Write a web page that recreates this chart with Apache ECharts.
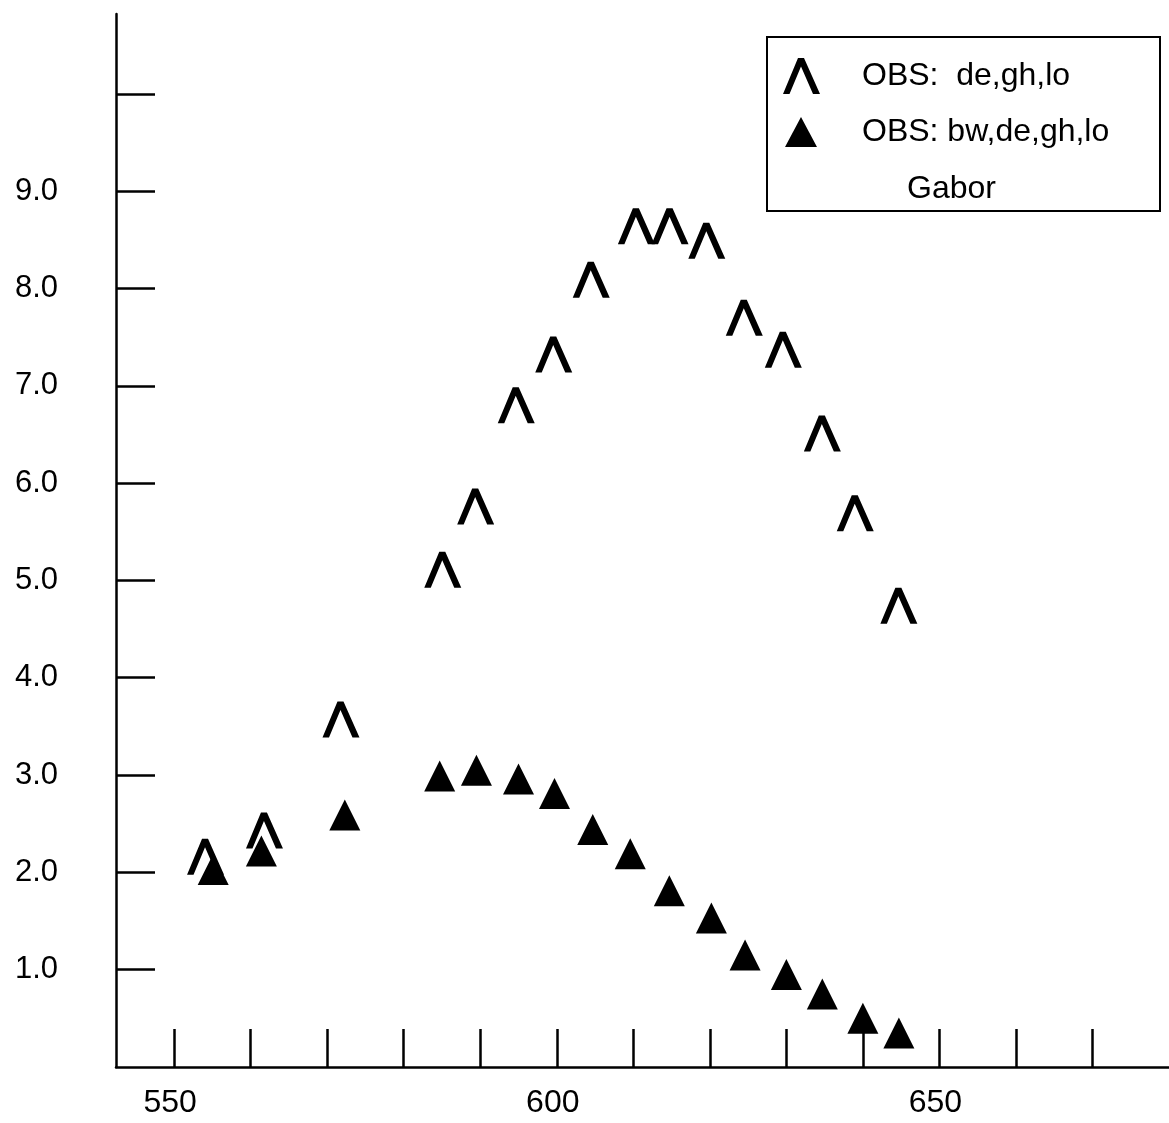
<!DOCTYPE html>
<html>
<head>
<meta charset="utf-8">
<script src="https://cdn.jsdelivr.net/npm/echarts@6/dist/echarts.min.js"></script>
<style>
  html, body { margin: 0; padding: 0; background: #fff; }
  #chart { width: 1169px; height: 1123px; }
</style>
</head>
<body>
<div id="chart"></div>
<script>
// Wavelength (nm) and response for the two observer groups
const obsWavelengths = [554.1, 561.8, 571.8, 585.1, 589.4, 594.7, 599.6, 604.5, 610.4, 614.8, 619.6, 624.5, 629.6, 634.7, 639.0, 644.7];
const obsValues      = [2.16, 2.43, 3.57, 5.11, 5.76, 6.80, 7.32, 8.09, 8.64, 8.64, 8.49, 7.70, 7.37, 6.51, 5.69, 4.74];

const obsBwWavelengths = [555.1, 561.4, 572.3, 584.7, 589.5, 595.0, 599.7, 604.7, 609.6, 614.7, 620.2, 624.6, 630.0, 634.7, 640.0, 644.7];
const obsBwValues      = [2.03, 2.22, 2.59, 2.99, 3.05, 2.96, 2.81, 2.44, 2.19, 1.81, 1.53, 1.15, 0.95, 0.75, 0.50, 0.35];

// Axis ticks and labels
const xTickValues  = [550, 560, 570, 580, 590, 600, 610, 620, 630, 640, 650, 660, 670];
const xLabelValues = [550, 600, 650];
const yTickValues  = [1, 2, 3, 4, 5, 6, 7, 8, 9, 10];
const yLabelValues = [1, 2, 3, 4, 5, 6, 7, 8, 9];

const seriesNames = ['OBS:  de,gh,lo', 'OBS: bw,de,gh,lo'];
const noteText = 'Gabor';

const FONT = '"Liberation Sans", Arial, Helvetica, sans-serif';
// open chevron marker, heavier right leg
const chevron = 'path://M0,36 L15,0 L21,0 L37,36 L30,36 L18,8.5 L6.5,36 Z';

const pairs = (xs, ys) => xs.map((x, i) => [x, ys[i]]);

const chart = echarts.init(document.getElementById('chart'), null, { renderer: 'canvas' });

chart.setOption({
  animation: false,
  backgroundColor: '#ffffff',
  grid: { left: 116, top: 14, right: -2, bottom: 56, containLabel: false },
  xAxis: {
    type: 'value',
    min: 542.4,
    max: 680,
    axisLine: { show: true, lineStyle: { color: '#000', width: 2.5 } },
    axisTick: {
      show: true, inside: true, length: 38,
      customValues: xTickValues,
      lineStyle: { color: '#000', width: 2.5 }
    },
    axisLabel: {
      show: true, margin: 20,
      customValues: xLabelValues,
      color: '#000', fontSize: 32, fontFamily: FONT,
      padding: [0, 8, 0, 0],
      formatter: v => String(Math.round(v))
    },
    splitLine: { show: false }
  },
  yAxis: {
    type: 'value',
    min: 0,
    max: 10.82,
    axisLine: { show: true, lineStyle: { color: '#000', width: 2.5 } },
    axisTick: {
      show: true, inside: true, length: 39,
      customValues: yTickValues,
      lineStyle: { color: '#000', width: 2.5 }
    },
    axisLabel: {
      show: true, margin: 58,
      customValues: yLabelValues,
      color: '#000', fontSize: 31, fontFamily: FONT,
      formatter: v => v.toFixed(1)
    },
    splitLine: { show: false }
  },
  legend: [
    {
      data: [{ name: seriesNames[0], icon: chevron }],
      orient: 'vertical',
      left: 783, top: 58,
      padding: 0,
      itemWidth: 37, itemHeight: 37,
      selectedMode: false,
      textStyle: { color: '#000', fontSize: 32, fontFamily: FONT, padding: [0, 0, 20, 37] }
    },
    {
      data: [{ name: seriesNames[1], icon: 'triangle' }],
      orient: 'vertical',
      left: 785, top: 116,
      padding: 0,
      itemWidth: 32, itemHeight: 30,
      selectedMode: false,
      textStyle: { color: '#000', fontSize: 32, fontFamily: FONT, padding: [0, 0, 0, 40] }
    }
  ],
  graphic: [
    {
      type: 'rect',
      shape: { x: 767, y: 37, width: 393, height: 174 },
      style: { fill: 'none', stroke: '#000', lineWidth: 2 },
      z: 1
    },
    {
      type: 'text',
      x: 907, y: 189,
      style: {
        text: noteText, fill: '#000', fontSize: 32, fontFamily: FONT,
        verticalAlign: 'middle', align: 'left'
      },
      z: 2
    }
  ],
  series: [
    {
      name: seriesNames[0],
      type: 'scatter',
      data: pairs(obsWavelengths, obsValues),
      symbol: chevron,
      symbolSize: [37, 36],
      itemStyle: { color: '#000', opacity: 1 },
      emphasis: { disabled: true },
      z: 3
    },
    {
      name: seriesNames[1],
      type: 'scatter',
      data: pairs(obsBwWavelengths, obsBwValues),
      symbol: 'triangle',
      symbolSize: [31, 31],
      itemStyle: { color: '#000', opacity: 1 },
      emphasis: { disabled: true },
      z: 4
    }
  ]
});
</script>
</body>
</html>
